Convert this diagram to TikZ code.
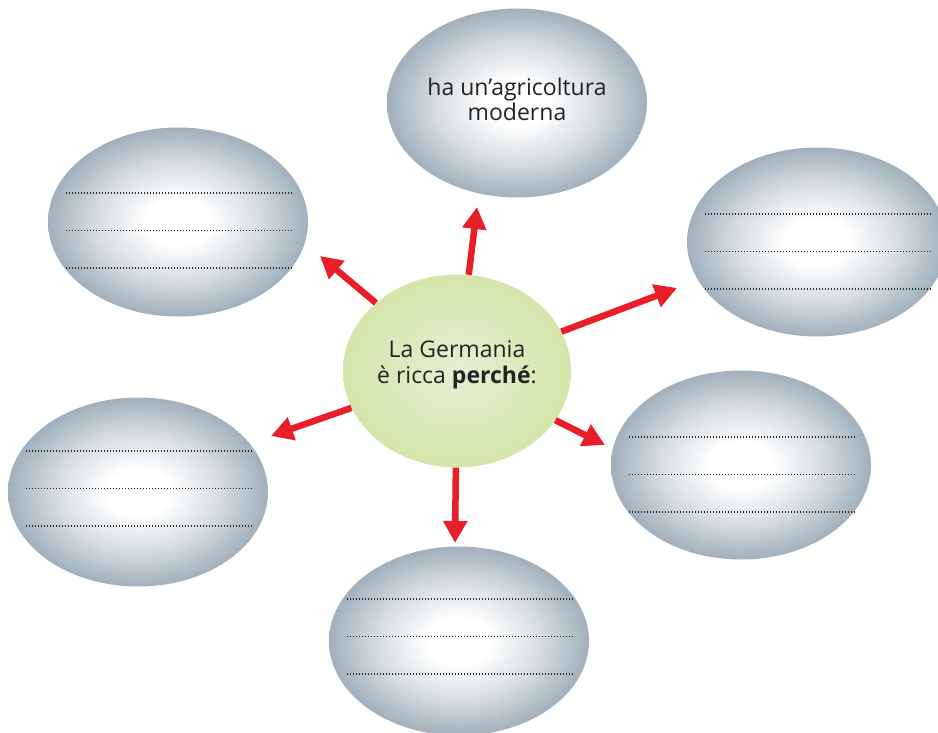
\documentclass[tikz,border=0pt]{standalone}
\usepackage{fontspec}
\setmainfont{Open Sans}
\usepackage{xcolor}
\usetikzlibrary{arrows.meta,shapes.geometric}

\definecolor{bubblegrey}{RGB}{160,176,188}
\definecolor{hubgreen}{RGB}{212,230,170}
\definecolor{hubinner}{RGB}{228,239,212}
\definecolor{arrowred}{RGB}{232,30,40}
\definecolor{textgrey}{RGB}{35,35,35}

\pgfdeclareradialshading{bubbleshade}{\pgfpoint{0bp}{0bp}}{%
  color(0bp)=(white); color(6bp)=(white);
  color(16bp)=(bubblegrey!45!white); color(25bp)=(bubblegrey); color(50bp)=(bubblegrey)}

\tikzset{
  bubble/.style={ellipse,minimum width=260pt,minimum height=189pt,inner sep=0pt,
    shading=bubbleshade,align=center,text=textgrey,
    font=\fontsize{23}{25}\selectfont},
  hub/.style={ellipse,minimum width=228pt,minimum height=193pt,inner sep=0pt,
    inner color=hubinner,outer color=hubgreen,align=center,text=textgrey,
    font=\fontsize{23}{26}\selectfont},
  redarrow/.style={draw=arrowred,line width=6.5pt,
    -{Triangle[length=22pt,width=23pt]}},
  dotline/.style={line width=1.1pt,dash pattern=on 1pt off 2pt,black!85}
}

\begin{document}
\begin{tikzpicture}[x=1pt,y=-1pt]
	\useasboundingbox (0,0) rectangle (938,733);
	% bubbles
	\node[bubble,text depth=7pt] (top) at (517,103) {ha un'agricoltura\\moderna};
	\node[bubble] (tl) at (178,222) {};
	\node[bubble] (tr) at (817,242) {};
	\node[bubble] (br) at (741,465) {};
	\node[bubble] (bl) at (138,492) {};
	\node[bubble] (bt) at (459,641) {};
	% dotted writing lines
	\foreach \b/\d in {tl/29,tr/28,br/28,bl/41,bt/42}
	  \foreach \k in {0,1,2}
	    \draw[dotline] ([shift={(-112pt,\d pt-37.5pt*\k)}]\b.center) -- ++(226pt,0pt);
	\node[hub,text depth=17pt] (hub) at (457,371) {La Germania\\è ricca \textbf{perché}:};
	% arrows
	\coordinate (tipN) at (477,207);
	\coordinate (tipNW) at (320,256);
	\coordinate (tipNE) at (677,288);
	\coordinate (tipSW) at (271,436);
	\coordinate (tipSE) at (605,445);
	\coordinate (tipS) at (455,543);
	\foreach \t in {tipN,tipNW,tipNE,tipSW,tipSE,tipS}
	  \draw[redarrow] (hub) -- (\t);
\end{tikzpicture}
\end{document}
